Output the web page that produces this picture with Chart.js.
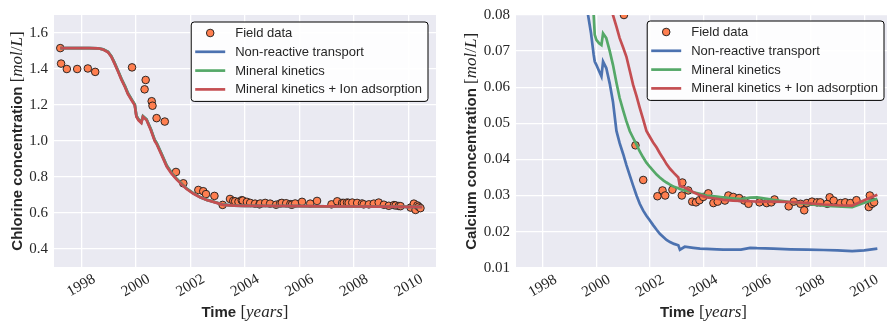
<!DOCTYPE html>
<html>
<head>
<meta charset="utf-8">
<script src="https://cdn.jsdelivr.net/npm/chart.js@4.4.1/dist/chart.umd.min.js"></script>
<style>
    html, body { margin: 0; padding: 0; background: #ffffff; overflow: hidden; }
    #wrap { position: relative; width: 887px; height: 324px; overflow: hidden; }
    #chlorine-chart { position: absolute; left: 0; top: 0; }
    #calcium-chart { position: absolute; left: 440px; top: 0; }
</style>
</head>
<body>
<div id="wrap">
    <canvas id="chlorine-chart" width="440" height="324"></canvas>
    <canvas id="calcium-chart" width="453" height="324"></canvas>
</div>
<script>
// ---- DATA ----
const yearTicks = [1998, 2000, 2002, 2004, 2006, 2008, 2010];
const chlorineTicks = [0.4, 0.6, 0.8, 1.0, 1.2, 1.4, 1.6];
const calciumTicks = [0.01, 0.02, 0.03, 0.04, 0.05, 0.06, 0.07, 0.08];
const seriesLabels = ['Field data', 'Non-reactive transport', 'Mineral kinetics', 'Mineral kinetics + Ion adsorption'];

// chlorine field data
const clFieldYears = [1997.23, 1997.26, 1997.47, 1997.85, 1998.24, 1998.51, 1999.86, 2000.32, 2000.36, 2000.58,
    2000.61, 2000.76, 2001.06, 2001.47, 2001.74, 2002.29, 2002.47, 2002.57, 2002.88, 2003.18,
    2003.45, 2003.57, 2003.64, 2003.76, 2003.88, 2003.92, 2004.07, 2004.19, 2004.37, 2004.53,
    2004.56, 2004.74, 2004.92, 2005.14, 2005.29, 2005.35, 2005.51, 2005.66, 2005.72, 2005.84,
    2006.09, 2006.39, 2006.64, 2007.17, 2007.38, 2007.56, 2007.62, 2007.74, 2007.80, 2007.93,
    2008.11, 2008.29, 2008.35, 2008.54, 2008.72, 2008.90, 2009.09, 2009.27, 2009.46, 2009.52,
    2009.64, 2009.70, 2010.07, 2010.19, 2010.25, 2010.32, 2010.37, 2010.43];
const clFieldValues = [1.516, 1.430, 1.400, 1.400, 1.403, 1.384, 1.409, 1.287, 1.339, 1.221,
    1.196, 1.127, 1.108, 0.828, 0.765, 0.728, 0.721, 0.705, 0.695, 0.645,
    0.678, 0.667, 0.665, 0.662, 0.671, 0.669, 0.662, 0.656, 0.652, 0.648,
    0.653, 0.656, 0.652, 0.646, 0.653, 0.656, 0.654, 0.649, 0.646, 0.653,
    0.662, 0.652, 0.667, 0.648, 0.665, 0.656, 0.656, 0.658, 0.656, 0.658,
    0.656, 0.653, 0.648, 0.648, 0.652, 0.658, 0.646, 0.640, 0.644, 0.642,
    0.639, 0.638, 0.630, 0.652, 0.617, 0.642, 0.635, 0.627];

// chlorine model curves
const clModelYears = [1997.23, 1997.6, 1998.0, 1998.3, 1998.61, 1998.8, 1998.98, 1999.1, 1999.22, 1999.35,
    1999.47, 1999.6, 1999.71, 1999.85, 1999.96, 2000.02, 2000.1, 2000.2, 2000.26, 2000.39,
    2000.55, 2000.69, 2000.76, 2000.95, 2001.13, 2001.3, 2001.49, 2001.7, 2001.86, 2002.1,
    2002.35, 2002.6, 2002.84, 2003.2, 2003.6, 2004.0, 2005.0, 2006.0, 2007.0, 2008.0,
    2009.0, 2010.0, 2010.49];
const clTransport = [1.516, 1.516, 1.516, 1.516, 1.515, 1.509, 1.495, 1.471, 1.434, 1.389,
    1.346, 1.305, 1.265, 1.230, 1.203, 1.140, 1.119, 1.104, 1.138, 1.121,
    1.065, 1.006, 0.989, 0.926, 0.864, 0.825, 0.791, 0.758, 0.736, 0.710,
    0.689, 0.673, 0.663, 0.646, 0.641, 0.640, 0.639, 0.638, 0.637, 0.636,
    0.635, 0.634, 0.634];
const clKinetics = [1.516, 1.516, 1.516, 1.516, 1.515, 1.509, 1.495, 1.471, 1.434, 1.389,
    1.346, 1.305, 1.265, 1.230, 1.203, 1.140, 1.119, 1.104, 1.138, 1.121,
    1.065, 1.006, 0.989, 0.926, 0.864, 0.825, 0.791, 0.758, 0.736, 0.710,
    0.689, 0.673, 0.663, 0.646, 0.641, 0.640, 0.639, 0.638, 0.637, 0.636,
    0.635, 0.634, 0.634];
const clAdsorption = [1.516, 1.516, 1.516, 1.516, 1.515, 1.508, 1.493, 1.468, 1.430, 1.385,
    1.341, 1.300, 1.260, 1.225, 1.198, 1.135, 1.115, 1.100, 1.135, 1.117,
    1.060, 1.000, 0.983, 0.920, 0.858, 0.820, 0.787, 0.755, 0.733, 0.708,
    0.688, 0.672, 0.662, 0.645, 0.641, 0.640, 0.639, 0.638, 0.637, 0.636,
    0.635, 0.634, 0.634];

// calcium field data
const caFieldYears = [2001.03, 2001.46, 2001.75, 2002.28, 2002.47, 2002.57, 2002.84, 2003.19, 2003.21, 2003.43,
    2003.58, 2003.72, 2003.85, 2003.99, 2004.18, 2004.37, 2004.53, 2004.80, 2004.93, 2005.11,
    2005.33, 2005.52, 2005.68, 2006.09, 2006.36, 2006.53, 2006.65, 2007.18, 2007.37, 2007.62,
    2007.76, 2007.86, 2008.05, 2008.24, 2008.36, 2008.62, 2008.71, 2008.86, 2009.11, 2009.29,
    2009.48, 2009.71, 2010.17, 2010.21, 2010.29, 2010.37];
const caFieldValues = [0.0800, 0.0439, 0.0343, 0.0298, 0.0314, 0.0300, 0.0316, 0.0300, 0.0336, 0.0314,
    0.0283, 0.0281, 0.0287, 0.0296, 0.0306, 0.0279, 0.0283, 0.0286, 0.0300, 0.0296,
    0.0293, 0.0286, 0.0277, 0.0281, 0.0279, 0.0281, 0.0289, 0.0270, 0.0283, 0.0277,
    0.0259, 0.0279, 0.0283, 0.0281, 0.0281, 0.0277, 0.0295, 0.0286, 0.0279, 0.0281,
    0.0279, 0.0287, 0.0268, 0.0300, 0.0277, 0.0281];

// calcium model curves
const caModelYears = [1997.23, 1998.0, 1998.6, 1999.2, 1999.5, 1999.69, 1999.8, 1999.9, 1999.94, 2000.0,
    2000.1, 2000.19, 2000.25, 2000.37, 2000.5, 2000.62, 2000.75, 2000.87, 2001.0, 2001.12,
    2001.25, 2001.37, 2001.5, 2001.62, 2001.75, 2001.87, 2002.0, 2002.12, 2002.25, 2002.37,
    2002.5, 2002.62, 2002.75, 2002.9, 2003.06, 2003.12, 2003.3, 2003.62, 2003.87, 2004.12,
    2004.5, 2004.74, 2005.11, 2005.4, 2005.74, 2006.0, 2006.61, 2007.24, 2007.86, 2008.49,
    2009.0, 2009.55, 2010.0, 2010.49];
const caTransport = [0.115, 0.115, 0.114, 0.105, 0.090, 0.080, 0.075, 0.069, 0.0671, 0.0662,
    0.0645, 0.0630, 0.0671, 0.0653, 0.0610, 0.0560, 0.0479, 0.0445, 0.0415, 0.0385,
    0.0355, 0.0328, 0.0300, 0.0277, 0.0258, 0.0244, 0.0231, 0.0218, 0.0205, 0.0194,
    0.0185, 0.0177, 0.0171, 0.0166, 0.0162, 0.0150, 0.0158, 0.0155, 0.0153, 0.0152,
    0.0151, 0.0150, 0.0150, 0.0150, 0.0155, 0.0154, 0.0153, 0.0151, 0.0150, 0.0149,
    0.0148, 0.0146, 0.0148, 0.0153];
const caKinetics = [0.125, 0.125, 0.124, 0.115, 0.100, 0.090, 0.085, 0.080, 0.0745, 0.0731,
    0.0722, 0.0717, 0.0749, 0.0736, 0.0700, 0.0662, 0.0612, 0.0570, 0.0536, 0.0506,
    0.0478, 0.0460, 0.0441, 0.0422, 0.0405, 0.0391, 0.0379, 0.0369, 0.0358, 0.0350,
    0.0342, 0.0336, 0.0330, 0.0324, 0.0320, 0.0318, 0.0314, 0.0309, 0.0305, 0.0300,
    0.0297, 0.0295, 0.0292, 0.0290, 0.0294, 0.0295, 0.0288, 0.0282, 0.0277, 0.0272,
    0.0270, 0.0268, 0.0280, 0.0291];
const caAdsorption = [0.140, 0.140, 0.139, 0.130, 0.118, 0.110, 0.104, 0.099, 0.097, 0.094,
    0.091, 0.089, 0.088, 0.086, 0.083, 0.0800, 0.0768, 0.0736, 0.0710, 0.0685,
    0.0645, 0.0607, 0.0575, 0.0543, 0.0510, 0.0479, 0.0462, 0.0447, 0.0433, 0.0417,
    0.0402, 0.0387, 0.0374, 0.0362, 0.0350, 0.0326, 0.0322, 0.0309, 0.0301, 0.0295,
    0.0291, 0.0288, 0.0286, 0.0285, 0.0284, 0.0283, 0.0283, 0.0282, 0.0279, 0.0275,
    0.0273, 0.0272, 0.0287, 0.0302];

// ---- STYLE ----
const colors = ['#FF7F50', '#4C72B0', '#55A868', '#C44E52'];
const textColor = '#262626';
const sansBold = 'bold 15px "Liberation Sans"';
const serifUp = '17px "Liberation Serif"';
const serifIt = 'italic 17px "Liberation Serif"';

function toPoints(xs, ys) {
    return xs.map((x, i) => ({x: x, y: ys[i]}));
}

function makeDatasets(fieldX, fieldY, modelX, transport, kinetics, adsorption) {
    const lines = [transport, kinetics, adsorption];
    const sets = [{
        label: seriesLabels[0],
        data: toPoints(fieldX, fieldY),
        showLine: false,
        pointRadius: 3.8,
        pointBackgroundColor: colors[0],
        pointBorderColor: '#1a1a1a',
        pointBorderWidth: 0.9,
        order: 4,
        clip: 0
    }];
    lines.forEach((vals, i) => {
        sets.push({
            label: seriesLabels[i + 1],
            data: toPoints(modelX, vals),
            showLine: true,
            borderColor: colors[i + 1],
            borderWidth: 2.7,
            pointRadius: 0,
            tension: 0,
            order: 3 - i,
            clip: 0
        });
    });
    return sets;
}

// plot background (seaborn darkgrid)
const plotBg = {
    id: 'plotBg',
    beforeDraw(chart) {
        const a = chart.chartArea;
        const ctx = chart.ctx;
        ctx.save();
        ctx.fillStyle = '#EAEAF2';
        ctx.fillRect(a.left, a.top, a.right - a.left, a.bottom - a.top);
        ctx.restore();
    }
};

function drawParts(ctx, parts, cx, cy, angle) {
    ctx.save();
    ctx.translate(cx, cy);
    ctx.rotate(angle);
    let total = 0;
    parts.forEach(p => { ctx.font = p[1]; p.w = ctx.measureText(p[0]).width; total += p.w; });
    let x = -total / 2;
    ctx.textAlign = 'left';
    ctx.textBaseline = 'alphabetic';
    ctx.fillStyle = textColor;
    parts.forEach(p => { ctx.font = p[1]; ctx.fillText(p[0], x, 5.5); x += p.w; });
    ctx.restore();
}

// x tick labels, axis titles, boxed legend
const decor = {
    id: 'decor',
    afterDraw(chart, args, opts) {
        const ctx = chart.ctx;
        const a = chart.chartArea;
        const xs = chart.scales.x;

        // rotated year labels, centred on ticks
        ctx.save();
        ctx.font = '15px "Liberation Serif"';
        ctx.fillStyle = textColor;
        ctx.textAlign = 'center';
        ctx.textBaseline = 'middle';
        yearTicks.forEach(v => {
            ctx.save();
            ctx.translate(xs.getPixelForValue(v), opts.tickY);
            ctx.rotate(-Math.PI / 6);
            ctx.fillText(String(v), 0, 0);
            ctx.restore();
        });
        ctx.restore();

        // axis titles
        drawParts(ctx, [['Time ', sansBold], ['[', serifUp], ['years', serifIt], [']', serifUp]],
            (a.left + a.right) / 2, opts.xTitleY, 0);
        drawParts(ctx, [[opts.yName + ' ', sansBold], ['[', serifUp], ['mol', serifIt], ['/', serifUp], ['L', serifIt], [']', serifUp]],
            opts.yTitleX, (a.top + a.bottom) / 2, -Math.PI / 2);

        // legend
        const sets = chart.data.datasets;
        ctx.save();
        ctx.font = '13px "Liberation Sans"';
        const textW = Math.max(...sets.map(d => ctx.measureText(d.label).width));
        const boxW = 4 + 30 + 10 + textW + 6;
        const rowH = 18.8;
        const boxH = 11 + rowH * (sets.length - 1) + 12;
        const right = a.right - opts.legendInset[0];
        const top = a.top + opts.legendInset[1];
        const left = right - boxW;
        ctx.beginPath();
        ctx.roundRect(left, top, boxW, boxH, 3);
        ctx.fillStyle = 'rgba(255,255,255,0.9)';
        ctx.fill();
        ctx.lineWidth = 1;
        ctx.strokeStyle = '#000000';
        ctx.stroke();
        sets.forEach((d, i) => {
            const y = top + 11 + i * rowH;
            if (d.showLine) {
                ctx.beginPath();
                ctx.moveTo(left + 4, y);
                ctx.lineTo(left + 34, y);
                ctx.strokeStyle = d.borderColor;
                ctx.lineWidth = 2.7;
                ctx.stroke();
            } else {
                ctx.beginPath();
                ctx.arc(left + 19, y, 3.8, 0, Math.PI * 2);
                ctx.fillStyle = d.pointBackgroundColor;
                ctx.fill();
                ctx.lineWidth = 0.9;
                ctx.strokeStyle = '#1a1a1a';
                ctx.stroke();
            }
            ctx.fillStyle = textColor;
            ctx.textAlign = 'left';
            ctx.textBaseline = 'middle';
            ctx.fillText(d.label, left + 44, y + 0.5);
        });
        ctx.restore();
    }
};

function makeChart(canvasId, datasets, cfg) {
    const canvas = document.getElementById(canvasId);
    const context = canvas.getContext('2d');
    return new Chart(context, {
        type: 'scatter',
        data: { datasets: datasets },
        options: {
            responsive: false,
            animation: false,
            events: [],
            layout: { autoPadding: false, padding: { left: 0, right: cfg.padRight, top: cfg.padTop, bottom: 0 } },
            scales: {
                x: {
                    type: 'linear',
                    min: 1997,
                    max: 2011,
                    afterBuildTicks: s => { s.ticks = yearTicks.map(v => ({value: v})); },
                    afterFit: s => { s.height = cfg.xHeight; },
                    grid: { color: '#ffffff', lineWidth: 1.3, drawTicks: false },
                    border: { display: false },
                    ticks: { display: false }
                },
                y: {
                    type: 'linear',
                    min: cfg.yMin,
                    max: cfg.yMax,
                    afterBuildTicks: s => { s.ticks = cfg.yTicks.map(v => ({value: v})); },
                    afterFit: s => { s.width = cfg.yWidth; },
                    grid: { color: '#ffffff', lineWidth: 1.3, drawTicks: false },
                    border: { display: false },
                    ticks: {
                        padding: 6,
                        color: textColor,
                        font: { family: '"Liberation Serif"', size: 15 },
                        callback: v => v.toFixed(cfg.digits)
                    }
                }
            },
            plugins: {
                legend: { display: false },
                tooltip: { enabled: false },
                decor: cfg.decor
            }
        },
        plugins: [plotBg, decor]
    });
}

var chlorineChart = makeChart('chlorine-chart',
    makeDatasets(clFieldYears, clFieldValues, clModelYears, clTransport, clKinetics, clAdsorption),
    { padRight: 4, padTop: 6.3, xHeight: 57, yWidth: 54, yMin: 0.3, yMax: 1.7, yTicks: chlorineTicks, digits: 1,
      decor: { tickY: 285.5, xTitleY: 311.5, yTitleX: 16, yName: 'Chlorine concentration', legendInset: [8, 7] } });

var calciumChart = makeChart('calcium-chart',
    makeDatasets(caFieldYears, caFieldValues, caModelYears, caTransport, caKinetics, caAdsorption),
    { padRight: 2, padTop: 13.3, xHeight: 56.3, yWidth: 76, yMin: 0.01, yMax: 0.08, yTicks: calciumTicks, digits: 2,
      decor: { tickY: 286, xTitleY: 311.5, yTitleX: 30.5, yName: 'Calcium concentration', legendInset: [7, 6] } });
</script>
</body>
</html>
